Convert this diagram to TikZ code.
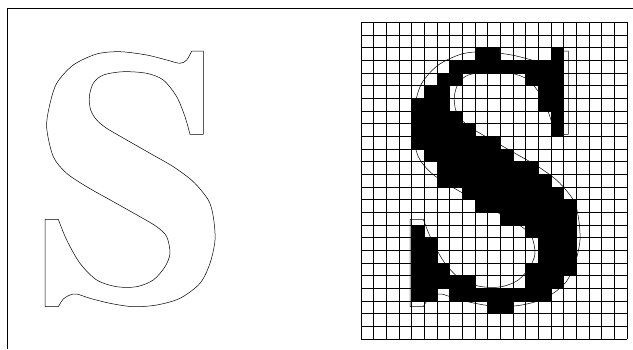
\documentclass[tikz,border=0pt]{standalone}
\begin{document}
\begin{tikzpicture}[x=1pt,y=-1pt,
  frameline/.style={line width=0.9pt},
  gridline/.style={line width=0.6pt},
  glyphline/.style={line width=0.5pt, line join=round}]
\useasboundingbox (0,0) rectangle (633,349);
% frame
\draw[frameline] (633,8.5) -- (7.5,8.5) -- (7.5,349);
% grid
\def\cellsz{12.667}
\foreach \i in {0,...,21} \draw[gridline] ({361+\cellsz*\i},22.33) -- ({361+\cellsz*\i},339);
\foreach \j in {0,...,25} \draw[gridline] (361,{22.33+\cellsz*\j}) -- (627,{22.33+\cellsz*\j});
% black cells
\foreach \r/\cols in {
  2/{9,10,15},
  3/{7,8,9,10,11,12,13,14,15},
  4/{6,7,13,14,15},
  5/{5,6,14,15},
  6/{4,5,6,14,15},
  7/{4,5,6,7,15},
  8/{4,5,6,7,8,15},
  9/{4,5,6,7,8,9,10},
  10/{5,6,7,8,9,10,11},
  11/{6,7,8,9,10,11,12,13},
  12/{6,7,8,9,10,11,12,13,14},
  13/{8,9,10,11,12,13,14,15},
  14/{9,10,11,12,13,14,15,16},
  15/{11,12,13,14,15,16},
  16/{4,13,14,15,16},
  17/{4,5,14,15,16},
  18/{4,5,14,15,16},
  19/{4,5,6,13,14,15,16},
  20/{4,5,6,7,8,13,14,15},
  21/{4,5,7,8,9,10,11,12,13,14},
  22/{10,11}}
{
  \foreach \c in \cols {
    \fill[black] ({361+\cellsz*\c},{22.33+\cellsz*\r}) rectangle ++(\cellsz,\cellsz);
  }
}
% glyph outlines (left, and shifted copy on the grid)
\foreach \dx in {0,365} {
\draw[glyphline, shift={(\dx,0)}]
  (203.3,51) -- (203.3,134.3) -- (190,134.3)
  -- plot[smooth] coordinates {(190,134.3) (185,116.7) (176.7,96.7) (163.3,80) (146.7,73.3)
     (123.3,71.7) (103.3,75) (93.3,83.3) (89.3,96.7) (90.7,110) (96.7,120) (106.7,128.3)
     (126.7,140) (150,153.3) (173.3,166.7) (193.3,181.7) (208.3,200) (213.3,216.7) (215,240)
     (210,263.3) (200,283.3) (180,298.3) (156.7,305) (133.3,306.7) (110,303.3) (90,298.3)
     (76.7,294) (70,295) (63.3,299) (58.3,306.7)}
  -- (45,306.7) -- (45,219.3) -- (58.3,219.3)
  -- plot[smooth] coordinates {(58.3,219.3) (66.7,240) (80,263.3) (96.7,280) (116.7,286.7)
     (136.7,286.7) (153.3,280) (165,266.7) (170,253.3) (166.7,236.7) (156.7,226.7) (140,216.7)
     (113.3,201.7) (86.7,186.7) (66.7,173.3) (53.3,156.7) (46.7,128) (49.3,106.7) (56.7,83.3)
     (73.3,65) (96.7,54) (120,51.7) (146.7,55) (166.7,60) (180,63.3) (186.7,60) (191.7,51)}
  -- cycle;
}
\end{tikzpicture}
\end{document}
